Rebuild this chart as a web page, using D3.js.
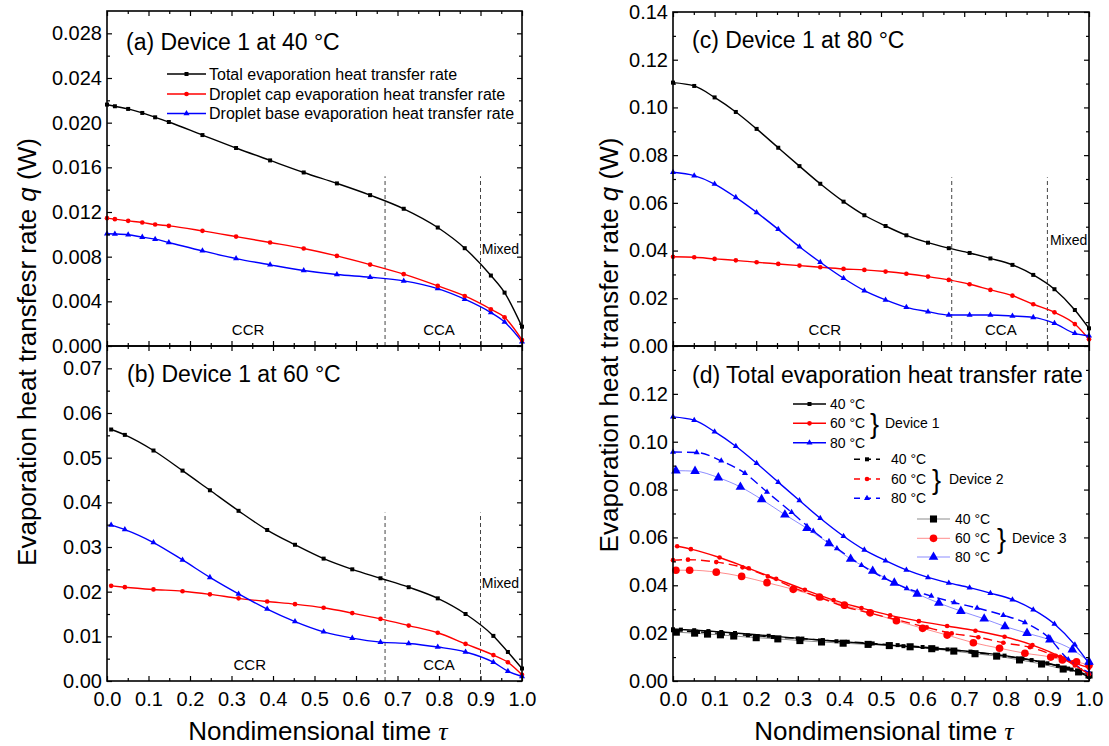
<!DOCTYPE html>
<html>
<head>
<meta charset="utf-8">
<script src="https://cdn.jsdelivr.net/npm/d3@7"></script>
<style>
  body { margin: 0; background: #fff; }
  svg { display: block; }
</style>
</head>
<body>
<svg id="fig" width="1109" height="746"></svg>
<script>
// ---------- data: nondimensional time and heat transfer rates (W) ----------
// Device 1 at 40 °C
const tauA   = [0, 0.019, 0.051, 0.085, 0.116, 0.149, 0.230, 0.311, 0.393, 0.474, 0.554, 0.634, 0.715, 0.797, 0.862, 0.925, 0.958, 1.0];
const totalA = [0.02162, 0.02147, 0.02123, 0.02087, 0.02048, 0.02006, 0.01889, 0.01773, 0.01662, 0.01554, 0.01456, 0.01351, 0.01229, 0.01061, 0.00876, 0.00631, 0.00478, 0.00173];
const capA   = [0.01145, 0.01136, 0.01121, 0.01106, 0.01088, 0.01076, 0.01031, 0.00980, 0.00927, 0.00873, 0.00807, 0.00729, 0.00643, 0.00538, 0.00448, 0.00329, 0.00257, 0.00054];
const baseA  = [0.01005, 0.01003, 0.00996, 0.00975, 0.00957, 0.00927, 0.00852, 0.00783, 0.00727, 0.00676, 0.00640, 0.00616, 0.00583, 0.00514, 0.00419, 0.00299, 0.00215, 0.00039];

// Device 1 at 60 °C
const tauB   = [0.010, 0.043, 0.112, 0.182, 0.248, 0.317, 0.386, 0.453, 0.522, 0.591, 0.659, 0.727, 0.797, 0.864, 0.931, 0.966, 1.0];
const totalB = [0.0563, 0.0551, 0.0516, 0.0471, 0.0427, 0.0381, 0.0338, 0.0305, 0.0274, 0.0250, 0.0230, 0.0210, 0.0185, 0.0150, 0.0101, 0.0065, 0.0028];
const capB   = [0.0213, 0.0210, 0.0205, 0.0201, 0.0194, 0.0185, 0.0178, 0.0172, 0.0164, 0.0152, 0.0139, 0.0124, 0.0108, 0.0083, 0.0058, 0.0042, 0.0014];
const baseB  = [0.0349, 0.0339, 0.0310, 0.0271, 0.0232, 0.0195, 0.0161, 0.0133, 0.0110, 0.0096, 0.0087, 0.0084, 0.0076, 0.0065, 0.0042, 0.0022, 0.0010];

// Device 1 at 80 °C
const tauC   = [0, 0.051, 0.100, 0.151, 0.201, 0.253, 0.304, 0.354, 0.410, 0.460, 0.511, 0.561, 0.613, 0.663, 0.713, 0.763, 0.816, 0.866, 0.917, 0.966, 1.0];
const totalC = [0.1104, 0.1090, 0.1042, 0.0981, 0.0910, 0.0831, 0.0754, 0.0680, 0.0605, 0.0548, 0.0503, 0.0464, 0.0433, 0.0410, 0.0390, 0.0367, 0.0340, 0.0298, 0.0238, 0.0151, 0.0074];
const capC   = [0.0374, 0.0372, 0.0365, 0.0359, 0.0351, 0.0344, 0.0337, 0.0330, 0.0323, 0.0319, 0.0312, 0.0303, 0.0291, 0.0277, 0.0259, 0.0235, 0.0211, 0.0175, 0.0141, 0.0092, 0.0028];
const baseC  = [0.0728, 0.0714, 0.0679, 0.0623, 0.0560, 0.0489, 0.0416, 0.0351, 0.0284, 0.0232, 0.0193, 0.0162, 0.0144, 0.0130, 0.0130, 0.0130, 0.0126, 0.0120, 0.0095, 0.0053, 0.0043];

// Device 2 totals
const tauD2_40 = [0, 0.06, 0.12, 0.18, 0.24, 0.30, 0.36, 0.42, 0.48, 0.54, 0.60, 0.66, 0.72, 0.78, 0.84, 0.90, 0.95, 1.0];
const d2_40    = [0.0212, 0.0205, 0.0198, 0.0191, 0.0184, 0.0178, 0.0171, 0.0164, 0.0157, 0.0150, 0.0142, 0.0132, 0.0121, 0.0108, 0.0093, 0.0074, 0.0052, 0.0022];
const tauD2_60 = [0, 0.036, 0.104, 0.167, 0.228, 0.292, 0.357, 0.413, 0.470, 0.540, 0.610, 0.670, 0.734, 0.794, 0.858, 0.920, 0.960, 1.0];
const d2_60    = [0.0505, 0.0507, 0.0497, 0.0475, 0.0437, 0.0388, 0.0346, 0.0311, 0.0285, 0.0255, 0.0224, 0.0199, 0.0183, 0.0160, 0.0141, 0.0105, 0.0078, 0.0055];
const tauD2_80 = [0, 0.057, 0.116, 0.173, 0.226, 0.285, 0.337, 0.394, 0.453, 0.508, 0.562, 0.621, 0.676, 0.731, 0.794, 0.846, 0.902, 0.950, 1.0];
const d2_80    = [0.0957, 0.0955, 0.0920, 0.0868, 0.0790, 0.0705, 0.0627, 0.0554, 0.0484, 0.0430, 0.0387, 0.0355, 0.0328, 0.0305, 0.0275, 0.0244, 0.0183, 0.0090, 0.0035];

// Device 3 totals
const tauD3_40 = [0.008, 0.052, 0.083, 0.114, 0.146, 0.200, 0.252, 0.305, 0.357, 0.409, 0.469, 0.520, 0.570, 0.622, 0.675, 0.726, 0.778, 0.833, 0.886, 0.938, 0.975, 1.0];
const d3_40    = [0.0204, 0.0200, 0.0196, 0.0193, 0.0188, 0.0181, 0.0176, 0.0169, 0.0163, 0.0158, 0.0153, 0.0148, 0.0143, 0.0135, 0.0125, 0.0114, 0.0104, 0.0088, 0.0071, 0.0050, 0.0038, 0.0025];
const tauD3_60 = [0.007, 0.040, 0.104, 0.165, 0.226, 0.289, 0.352, 0.412, 0.474, 0.537, 0.600, 0.659, 0.722, 0.785, 0.846, 0.908, 0.936, 0.970, 1.0];
const d3_60    = [0.0463, 0.0463, 0.0455, 0.0437, 0.0411, 0.0383, 0.0351, 0.0317, 0.0285, 0.0252, 0.0220, 0.0192, 0.0160, 0.0137, 0.0116, 0.0100, 0.0088, 0.0080, 0.0066];
const tauD3_80 = [0.007, 0.053, 0.109, 0.162, 0.213, 0.269, 0.322, 0.375, 0.427, 0.480, 0.532, 0.587, 0.639, 0.692, 0.748, 0.798, 0.851, 0.906, 0.960, 1.0];
const d3_80    = [0.0879, 0.0877, 0.0850, 0.0811, 0.0759, 0.0695, 0.0638, 0.0575, 0.0510, 0.0460, 0.0410, 0.0364, 0.0326, 0.0292, 0.0260, 0.0228, 0.0200, 0.0172, 0.0131, 0.0080];

// axis ticks
const xTicks  = [0, 0.1, 0.2, 0.3, 0.4, 0.5, 0.6, 0.7, 0.8, 0.9, 1.0];
const yTicksA = [0, 0.004, 0.008, 0.012, 0.016, 0.020, 0.024, 0.028];
const yTicksB = [0, 0.01, 0.02, 0.03, 0.04, 0.05, 0.06, 0.07];
const yTicksC = [0, 0.02, 0.04, 0.06, 0.08, 0.10, 0.12, 0.14];
const yTicksD = [0, 0.02, 0.04, 0.06, 0.08, 0.10, 0.12];

// text
const componentNames = ["Total evaporation heat transfer rate", "Droplet cap evaporation heat transfer rate", "Droplet base evaporation heat transfer rate"];
const tempLabels = ["40 °C", "60 °C", "80 °C"];
const deviceLabels = ["Device 1", "Device 2", "Device 3"];
const regimeTau = [0.67, 0.90];
const regimeNames = ["CCR", "CCA", "Mixed"];

// ---------- drawing ----------
const FONT = '"Liberation Sans", Arial, Helvetica, sans-serif';
const svg = d3.select("#fig").attr("font-family", FONT);

const BLACK = "#000000", RED = "#ff0000", BLUE = "#0000ff";
const SYM = { sq: d3.symbolSquare, ci: d3.symbolCircle, tr: d3.symbolTriangle };
const small = { sq: 16, ci: 17, tr: 16 };
const large = { sq: 50, ci: 46, tr: 40 };

function makePanel(x0, x1, y0, y1, yMax) {
  const x = d3.scaleLinear().domain([0, 1]).range([x0, x1]);
  const y = d3.scaleLinear().domain([0, yMax]).range([y1, y0]);
  const g = svg.append("g");
  return { x, y, g };
}

function styleAxis(sel) {
  sel.select(".domain").remove();
  sel.attr("font-size", 20).attr("font-family", FONT);
  sel.selectAll("line").attr("stroke", "#000").attr("stroke-width", 1.2);
  sel.selectAll("text").attr("fill", "#000");
}

function drawAxes(p, yTicks, yFmt, xLabels) {
  const { x, y, g } = p;
  const [X0, X1] = x.range();
  const [Yb, Yt] = y.range();
  const step = yTicks[1] - yTicks[0];
  const yMinor = yTicks.map(t => t + step / 2).filter(t => t < y.domain()[1] - 1e-9);
  const xMinor = xTicks.slice(0, -1).map(t => t + 0.05);
  const ax = g.append("g");

  ax.append("g").attr("transform", `translate(${X0},0)`)
    .call(d3.axisLeft(y).tickValues(yTicks).tickSizeInner(-5).tickSizeOuter(0).tickPadding(5).tickFormat(yFmt))
    .call(styleAxis);
  ax.append("g").attr("transform", `translate(${X0},0)`)
    .call(d3.axisLeft(y).tickValues(yMinor).tickSizeInner(-3).tickSizeOuter(0).tickFormat(""))
    .call(styleAxis);
  ax.append("g").attr("transform", `translate(${X1},0)`)
    .call(d3.axisRight(y).tickValues(yTicks).tickSizeInner(-5).tickSizeOuter(0).tickFormat(""))
    .call(styleAxis);
  ax.append("g").attr("transform", `translate(${X1},0)`)
    .call(d3.axisRight(y).tickValues(yMinor).tickSizeInner(-3).tickSizeOuter(0).tickFormat(""))
    .call(styleAxis);

  ax.append("g").attr("transform", `translate(0,${Yb})`)
    .call(d3.axisBottom(x).tickValues(xTicks).tickSizeInner(-5).tickSizeOuter(0).tickPadding(11)
      .tickFormat(xLabels ? d3.format(".1f") : ""))
    .call(styleAxis);
  ax.append("g").attr("transform", `translate(0,${Yb})`)
    .call(d3.axisBottom(x).tickValues(xMinor).tickSizeInner(-3).tickSizeOuter(0).tickFormat(""))
    .call(styleAxis);
  ax.append("g").attr("transform", `translate(0,${Yt})`)
    .call(d3.axisTop(x).tickValues(xTicks).tickSizeInner(-5).tickSizeOuter(0).tickFormat(""))
    .call(styleAxis);
  ax.append("g").attr("transform", `translate(0,${Yt})`)
    .call(d3.axisTop(x).tickValues(xMinor).tickSizeInner(-3).tickSizeOuter(0).tickFormat(""))
    .call(styleAxis);

  g.append("rect").attr("x", X0).attr("y", Yt).attr("width", X1 - X0).attr("height", Yb - Yt)
    .attr("fill", "none").attr("stroke", "#000").attr("stroke-width", 1.6);
}

function drawSeries(p, tau, vals, st) {
  const pts = tau.map((t, i) => [t, vals[i]]);
  const line = d3.line().x(d => p.x(d[0])).y(d => p.y(d[1])).curve(d3.curveMonotoneX);
  p.g.append("path").datum(pts).attr("d", line)
    .attr("fill", "none").attr("stroke", st.color).attr("stroke-width", st.width)
    .attr("stroke-dasharray", st.dash || null).attr("stroke-opacity", st.opacity || 1);
  p.g.append("g").selectAll("path").data(pts).join("path")
    .attr("transform", d => `translate(${p.x(d[0])},${p.y(d[1])})`)
    .attr("d", d3.symbol(SYM[st.sym], st.size)).attr("fill", st.color);
}

function drawRegimes(p, topVal, mixedVal, ccrTau, ccaTau, mixedTau) {
  const [Yb] = p.y.range();
  regimeTau.forEach(t => {
    p.g.append("line").attr("x1", p.x(t)).attr("x2", p.x(t))
      .attr("y1", Yb).attr("y2", p.y(topVal))
      .attr("stroke", "#444").attr("stroke-width", 1).attr("stroke-dasharray", "4,3");
  });
  const base = Yb - 11;
  p.g.append("text").attr("x", p.x(ccrTau)).attr("y", base).attr("text-anchor", "middle")
    .attr("font-size", 15).text(regimeNames[0]);
  p.g.append("text").attr("x", p.x(ccaTau)).attr("y", base).attr("text-anchor", "middle")
    .attr("font-size", 15).text(regimeNames[1]);
  p.g.append("text").attr("x", p.x(mixedTau)).attr("y", p.y(mixedVal)).attr("text-anchor", "middle")
    .attr("font-size", 14).text(regimeNames[2]);
}

function panelTitle(x, y, txt) {
  svg.append("text").attr("x", x).attr("y", y).attr("font-size", 23).text(txt);
}

const pA = makePanel(107, 522, 11, 346, 0.030);
const pB = makePanel(107, 522, 346, 681, 0.075);
const pC = makePanel(673, 1089, 12, 346, 0.14);
const pD = makePanel(673, 1089, 346, 681, 0.14);

const f3 = d3.format(".3f"), f2 = d3.format(".2f");

// component panels (a)-(c)
const totalStyle = { color: BLACK, width: 1.4, sym: "sq", size: small.sq };
const capStyle   = { color: RED,   width: 1.4, sym: "ci", size: small.ci };
const baseStyle  = { color: BLUE,  width: 1.4, sym: "tr", size: small.tr };

drawRegimes(pA, 0.0152, 0.0082, 0.34, 0.80, 0.948);
drawSeries(pA, tauA, totalA, totalStyle);
drawSeries(pA, tauA, baseA, baseStyle);
drawSeries(pA, tauA, capA, capStyle);
drawAxes(pA, yTicksA, f3, false);

drawRegimes(pB, 0.0377, 0.0208, 0.344, 0.80, 0.948);
drawSeries(pB, tauB, totalB, totalStyle);
drawSeries(pB, tauB, capB, capStyle);
drawSeries(pB, tauB, baseB, baseStyle);
drawAxes(pB, yTicksB, f2, true);

drawRegimes(pC, 0.0707, 0.0423, 0.365, 0.788, 0.951);
drawSeries(pC, tauC, totalC, totalStyle);
drawSeries(pC, tauC, capC, capStyle);
drawSeries(pC, tauC, baseC, baseStyle);
drawAxes(pC, yTicksC, f2, false);

// panel (d): total rate of the three devices
const d3Line = (c) => ({ color: c, width: 1, opacity: 0.45 });
drawSeries(pD, tauD3_40, d3_40, { ...d3Line(BLACK), sym: "sq", size: large.sq });
drawSeries(pD, tauD3_60, d3_60, { ...d3Line(RED), sym: "ci", size: large.ci });
drawSeries(pD, tauD3_80, d3_80, { ...d3Line(BLUE), sym: "tr", size: large.tr });
drawSeries(pD, tauD2_40, d2_40, { color: BLACK, width: 1.4, dash: "9,5", sym: "sq", size: small.sq });
drawSeries(pD, tauD2_60, d2_60, { color: RED, width: 1.4, dash: "9,5", sym: "ci", size: small.ci });
drawSeries(pD, tauD2_80, d2_80, { color: BLUE, width: 1.4, dash: "9,5", sym: "tr", size: small.tr });
drawSeries(pD, tauA, totalA, { color: BLACK, width: 1.4, sym: "sq", size: small.sq });
drawSeries(pD, tauB, totalB, { color: RED, width: 1.4, sym: "ci", size: small.ci });
drawSeries(pD, tauC, totalC, { color: BLUE, width: 1.4, sym: "tr", size: small.tr });
drawAxes(pD, yTicksD, f2, true);

// panel titles
panelTitle(126, 50, "(a) Device 1 at 40 °C");
panelTitle(127, 382, "(b) Device 1 at 60 °C");
panelTitle(692, 48, "(c) Device 1 at 80 °C");
panelTitle(692, 383, "(d) Total evaporation heat transfer rate");

// legend of panel (a)
const legA = svg.append("g").attr("font-size", 16);
const legAStyles = [totalStyle, capStyle, baseStyle];
const legARows = [74, 94, 113.5];
componentNames.forEach((name, i) => {
  const st = legAStyles[i], yy = legARows[i];
  legA.append("line").attr("x1", 167).attr("x2", 206).attr("y1", yy).attr("y2", yy)
    .attr("stroke", st.color).attr("stroke-width", 1.4);
  legA.append("path").attr("transform", `translate(186.5,${yy})`)
    .attr("d", d3.symbol(SYM[st.sym], st.size)).attr("fill", st.color);
  legA.append("text").attr("x", 209).attr("y", yy).attr("dy", "0.35em").text(name);
});

// legend of panel (d)
const legD = svg.append("g").attr("font-size", 14);
const colors = [BLACK, RED, BLUE];
const syms = ["sq", "ci", "tr"];
const legDGroups = [
  { lx: [793, 826], tx: 830, rows: [404, 423.3, 442.7], bx: 870, dx: 885,
    st: i => ({ color: colors[i], width: 1.4, sym: syms[i], size: small[syms[i]] }) },
  { lx: [854, 880], tx: 891, rows: [459.3, 479, 498.3], bx: 932, dx: 949,
    st: i => ({ color: colors[i], width: 1.4, dash: "6,5", sym: syms[i], size: small[syms[i]] }) },
  { lx: [917, 950], tx: 955, rows: [519, 538.3, 557], bx: 997, dx: 1012,
    st: i => ({ color: colors[i], width: 1, opacity: 0.45, sym: syms[i], size: large[syms[i]] }) }
];
legDGroups.forEach((grp, gi) => {
  grp.rows.forEach((yy, i) => {
    const st = grp.st(i);
    legD.append("line").attr("x1", grp.lx[0]).attr("x2", grp.lx[1]).attr("y1", yy).attr("y2", yy)
      .attr("stroke", st.color).attr("stroke-width", st.width)
      .attr("stroke-dasharray", st.dash || null).attr("stroke-opacity", st.opacity || 1);
    legD.append("path").attr("transform", `translate(${(grp.lx[0] + grp.lx[1]) / 2},${yy})`)
      .attr("d", d3.symbol(SYM[st.sym], st.size)).attr("fill", st.color);
    legD.append("text").attr("x", grp.tx).attr("y", yy).attr("dy", "0.35em").text(tempLabels[i]);
  });
  const mid = grp.rows[1];
  legD.append("text").attr("x", grp.bx).attr("y", mid).attr("dy", "0.36em")
    .attr("font-size", 27).text("}");
  legD.append("text").attr("x", grp.dx).attr("y", mid).attr("dy", "0.35em").text(deviceLabels[gi]);
});

// axis titles
function yTitle(x, y, label) {
  const t = svg.append("text").attr("transform", `translate(${x},${y}) rotate(-90)`)
    .attr("text-anchor", "middle").attr("font-size", 26);
  t.append("tspan").text(label + " ");
  t.append("tspan").attr("font-style", "italic").text("q");
  t.append("tspan").text(" (W)");
}
yTitle(36, 352, "Evaporation heat transfesr rate");
yTitle(618, 345, "Evaporation heat transfer rate");

function xTitle(x) {
  const t = svg.append("text").attr("x", x).attr("y", 740).attr("text-anchor", "middle").attr("font-size", 26);
  t.append("tspan").text("Nondimensional time ");
  t.append("tspan").attr("font-family", '"Liberation Serif", "DejaVu Serif", serif')
    .attr("font-style", "italic").text("τ");
}
xTitle(318);
xTitle(884);
</script>
</body>
</html>
